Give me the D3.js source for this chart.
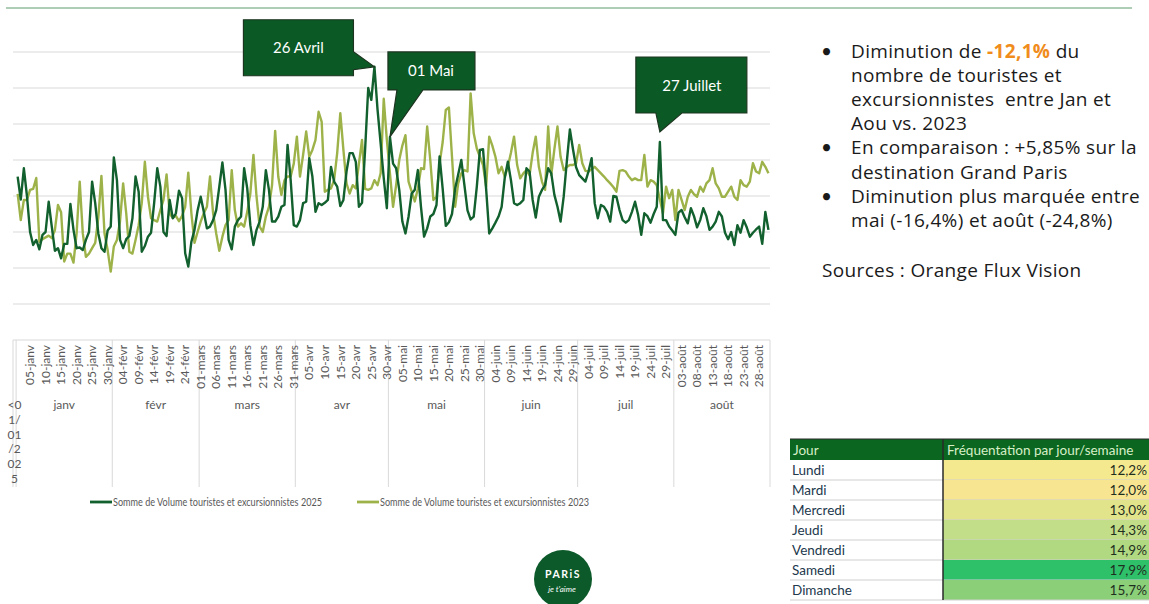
<!DOCTYPE html>
<html>
<head>
<meta charset="utf-8">
<script src="https://cdn.jsdelivr.net/npm/d3@7"></script>
<style>
  body { margin: 0; background: #fff; }
  svg { display: block; font-family: Lato, "Open Sans", sans-serif; }
</style>
</head>
<body>
<svg id="canvas" width="1149" height="604"></svg>
<script>
// month groups on the category axis (2025 calendar, Jan -> Aug)
const months = ['janv', 'févr', 'mars', 'avr', 'mai', 'juin', 'juil', 'août'];
const monthDays = [31, 28, 31, 30, 31, 30, 31, 31];
const firstGroupLabel = '<01/01/2025';

// daily volumes (gridline units, no y labels shown)
const vol2025 = [
  4.54, 3.9, 4.77, 4.0, 3.0, 2.64, 2.78, 2.52, 2.92, 3.0,
  3.84, 3.15, 2.48, 2.55, 2.27, 2.67, 2.67, 3.78, 3.06, 2.55,
  2.57, 2.5, 2.78, 3.0, 4.4, 3.8, 2.96, 2.55, 2.45, 3.04,
  3.15, 5.07, 4.44, 2.78, 2.55, 2.8, 2.89, 3.38, 4.54, 4.12,
  2.45, 2.61, 2.87, 2.98, 3.81, 4.77, 4.26, 3.0, 2.89, 3.89,
  3.38, 3.52, 4.15, 3.94, 2.41, 2.04, 2.73, 3.06, 3.6, 3.98,
  3.56, 3.1, 3.15, 3.33, 3.61, 4.26, 4.93, 4.17, 2.78, 2.52,
  3.15, 3.33, 3.43, 4.77, 4.21, 3.19, 2.64, 3.06, 3.29, 3.7,
  4.72, 4.17, 3.29, 3.29, 3.43, 3.7, 3.75, 5.42, 4.44, 3.19,
  3.15, 3.33, 3.8, 3.84, 5.05, 4.54, 3.56, 3.8, 3.75, 3.81,
  3.89, 4.81, 4.4, 4.26, 3.72, 3.89, 4.68, 5.19, 5.19, 4.95,
  3.7, 3.81, 5.3, 7.0, 6.67, 7.59, 6.4, 5.46, 4.5, 3.66,
  5.64, 4.9, 4.77, 4.17, 3.29, 2.96, 3.43, 4.07, 4.17, 4.72,
  3.7, 2.87, 3.1, 3.43, 3.5, 3.75, 5.1, 4.2, 3.17, 3.27,
  3.5, 4.2, 4.6, 5.0, 4.3, 3.6, 3.35, 3.43, 4.26, 5.28,
  5.3, 4.2, 2.96, 3.1, 3.26, 3.43, 3.7, 4.5, 4.95, 4.44,
  3.8, 3.75, 3.8, 3.89, 4.77, 4.68, 3.89, 3.4, 3.98, 4.17,
  4.3, 4.77, 4.63, 4.03, 3.7, 3.29, 3.98, 4.95, 5.85, 5.3,
  4.8, 4.58, 4.49, 4.4, 4.68, 5.05, 3.8, 3.38, 3.75, 3.7,
  3.56, 3.29, 4.0, 3.98, 3.61, 3.33, 3.26, 3.33, 3.56, 3.84,
  3.47, 2.92, 3.52, 3.44, 3.26, 3.5, 3.7, 5.5, 3.33, 3.33,
  3.15, 3.04, 2.92, 3.54, 3.61, 3.41, 3.24, 3.66, 3.44, 3.13,
  3.33, 3.66, 3.44, 3.06, 3.15, 3.29, 3.56, 3.43, 2.98, 2.8,
  3.0, 2.64, 3.19, 2.98, 3.33, 3.13, 2.87, 2.98, 3.07, 3.15,
  2.67, 3.56, 3.06
];
const vol2023 = [
  4.06, 3.33, 3.89, 3.89, 4.17, 4.2, 4.5, 2.73, 2.8, 2.85,
  2.9, 2.83, 3.05, 3.75, 3.55, 2.18, 2.4, 2.4, 2.15, 2.96,
  4.4, 2.96, 2.31, 2.4, 2.55, 2.7, 3.4, 4.56, 2.96, 2.5,
  1.9, 2.6, 2.78, 3.3, 4.35, 3.52, 2.45, 2.4, 2.78, 3.19,
  3.8, 4.95, 3.98, 3.38, 3.33, 3.29, 3.61, 3.89, 4.6, 3.5,
  3.4, 3.45, 3.3, 3.45, 3.7, 4.65, 3.52, 2.7, 3.0, 3.29,
  3.52, 3.7, 4.54, 3.52, 2.96, 2.48, 2.87, 3.19, 3.33, 4.72,
  3.61, 3.15, 3.24, 3.15, 3.56, 4.07, 5.14, 3.98, 3.15, 3.0,
  3.43, 3.7, 4.3, 5.81, 4.54, 4.03, 4.44, 4.54, 4.54, 4.9,
  5.65, 4.54, 5.14, 5.79, 5.09, 5.28, 5.56, 6.34, 6.06, 4.12,
  4.17, 4.21, 4.44, 5.2, 6.3, 5.28, 4.35, 4.07, 4.3, 4.21,
  4.9, 5.56, 4.2, 4.17, 4.21, 4.44, 4.3, 4.63, 6.7, 5.56,
  4.63, 3.7, 4.3, 5.0, 5.4, 5.69, 4.4, 4.12, 3.85, 4.2,
  4.77, 4.75, 5.93, 5.0, 3.89, 3.98, 4.9, 5.5, 6.39, 6.46,
  5.09, 3.7, 4.35, 4.63, 4.72, 4.68, 6.85, 5.74, 5.32, 5.09,
  4.86, 4.26, 5.65, 5.4, 5.09, 4.63, 4.81, 4.54, 4.81, 5.2,
  5.65, 4.86, 4.49, 4.63, 4.72, 4.58, 5.2, 5.65, 4.81, 4.4,
  4.17, 5.93, 4.58, 5.3, 5.93, 5.09, 4.72, 4.81, 4.86, 4.86,
  4.91, 5.42, 4.91, 4.7, 4.68, 4.74, 4.81, 4.72, 4.63, 4.54,
  4.44, 4.35, 4.25, 4.12, 4.7, 4.72, 4.68, 4.54, 4.44, 4.49,
  4.44, 4.44, 5.14, 4.26, 4.44, 4.4, 4.3, 3.9, 3.52, 4.26,
  3.94, 4.17, 3.33, 4.17, 3.89, 3.61, 3.98, 4.17, 4.05, 3.98,
  4.26, 4.12, 4.35, 4.44, 4.77, 4.35, 4.21, 3.98, 3.98, 4.12,
  4.26, 3.98, 3.89, 4.44, 4.3, 4.26, 4.4, 4.91, 4.68, 4.63,
  4.95, 4.81, 4.63
];
const seriesNames = [
  'Somme de Volume touristes et excursionnistes 2025',
  'Somme de Volume touristes et excursionnistes 2023'
];

// callouts: day index (1 = 1 janv)
const calloutLabels = ['26 Avril', '01 Mai', '27 Juillet'];
const calloutDays = [116, 121, 208];

// table on the right
const tableHeader = ['Jour', 'Fréquentation par jour/semaine'];
const weekDays = ['Lundi', 'Mardi', 'Mercredi', 'Jeudi', 'Vendredi', 'Samedi', 'Dimanche'];
const weekShares = [12.2, 12.0, 13.0, 14.3, 14.9, 17.9, 15.7];

const sourceText = 'Sources : Orange Flux Vision';

const canvas = d3.select('#canvas');
const grey = '#595959';
const dark = '#11602d';
const olive = '#9db34a';

// slide header rule
canvas.append('line')
  .attr('x1', 6).attr('x2', 1132).attr('y1', 8).attr('y2', 8)
  .attr('stroke', '#5c9c6c').attr('stroke-width', 1);

// scales: category 0 is the empty "<01/01/2025" slot, then one per day
const nCat = 1 + d3.sum(monthDays);
const x = d3.scaleBand().domain(d3.range(nCat)).range([13, 770]);
const cx = i => x(i) + x.bandwidth() / 2;
const y = d3.scaleLinear().domain([0, 8]).range([340, 52]);

// gridlines
canvas.append('g')
  .selectAll('line')
  .data(y.ticks(8))
  .enter()
  .append('line')
  .attr('x1', 13).attr('x2', 770)
  .attr('y1', d => y(d)).attr('y2', d => y(d))
  .attr('stroke', '#d9d9d9')
  .attr('stroke-width', 1);

// month group separators below the axis
let cum = [1];
monthDays.forEach(n => cum.push(cum[cum.length - 1] + n));
const sepX = [x(0)].concat(cum.map(c => c < nCat ? x(c) : 770));
canvas.append('g')
  .selectAll('line')
  .data(sepX)
  .enter()
  .append('line')
  .attr('x1', d => d).attr('x2', d => d)
  .attr('y1', y(0)).attr('y2', 487)
  .attr('stroke', '#d9d9d9');

// day tick labels, every 5th category
const fmtDay = d3.timeFormat('%d');
const tickIdx = d3.range(5, nCat, 5);
canvas.append('g')
  .selectAll('text')
  .data(tickIdx)
  .enter()
  .append('text')
  .attr('transform', i => `translate(${cx(i)},345) rotate(-90)`)
  .attr('dy', '0.35em')
  .attr('text-anchor', 'end')
  .style('font-size', '12px')
  .attr('fill', grey)
  .text(i => {
    const dt = new Date(2025, 0, i);
    return fmtDay(dt) + '-' + months[dt.getMonth()];
  });

// month names
canvas.append('g')
  .selectAll('text')
  .data(months)
  .enter()
  .append('text')
  .attr('x', (m, k) => (sepX[k + 1] + sepX[k + 2]) / 2)
  .attr('y', 409)
  .attr('text-anchor', 'middle')
  .style('font-size', '12px')
  .attr('fill', grey)
  .text(m => m);

// the squeezed "<01/01/2025" group label, wraps every 2 chars
const chunks = firstGroupLabel.match(/.{1,2}/g);
canvas.append('g')
  .selectAll('text')
  .data(chunks)
  .enter()
  .append('text')
  .attr('x', 14.5)
  .attr('y', (c, k) => 409 + k * 14.8)
  .attr('text-anchor', 'middle')
  .style('font-size', '12px')
  .attr('fill', grey)
  .text(c => c);

// the two lines
const line = d3.line()
  .x((v, k) => cx(k + 1))
  .y(v => y(v))
  .curve(d3.curveLinear);

canvas.append('path')
  .datum(vol2023)
  .attr('d', line)
  .attr('fill', 'none')
  .attr('stroke', olive)
  .attr('stroke-width', 2.4)
  .attr('stroke-linejoin', 'round');

canvas.append('path')
  .datum(vol2025)
  .attr('d', line)
  .attr('fill', 'none')
  .attr('stroke', dark)
  .attr('stroke-width', 2.4)
  .attr('stroke-linejoin', 'round');

// callouts (tip sits a bit above the 27 juillet peak)
const tipGap = [0, 0, 10];
const tips = calloutDays.map((d, k) => [cx(d), y(vol2025[d - 1]) - tipGap[k]]);
const calloutPaths = [
  // box to the left, wedge pointing right
  t => `M${t[0] - 131},${t[1] - 47} H${t[0] - 21} V${t[1] - 15} L${t[0]},${t[1]} L${t[0] - 21},${t[1] + 3} V${t[1] + 9} H${t[0] - 131} Z`,
  // box above-right, wedge pointing down-left
  t => `M${t[0] - 2},${t[1] - 85} H${t[0] + 85} V${t[1] - 47} H${t[0] + 33} L${t[0]},${t[1]} L${t[0] + 7},${t[1] - 47} H${t[0] - 2} Z`,
  // box above, wedge pointing down
  t => `M${t[0] - 24},${t[1] - 75} H${t[0] + 87} V${t[1] - 19} H${t[0] + 22} L${t[0]},${t[1]} L${t[0] - 4},${t[1] - 19} H${t[0] - 24} Z`
];
const calloutText = [
  t => [t[0] - 76, t[1] - 19],
  t => [t[0] + 41, t[1] - 66],
  t => [t[0] + 32, t[1] - 46]
];

calloutLabels.forEach((lbl, k) => {
  const t = tips[k];
  canvas.append('path')
    .attr('d', calloutPaths[k](t))
    .attr('fill', '#0b5a25')
    .attr('stroke', '#1d3520')
    .attr('stroke-width', 1.2);
  const p = calloutText[k](t);
  canvas.append('text')
    .attr('x', p[0]).attr('y', p[1])
    .attr('dy', '0.35em')
    .attr('text-anchor', 'middle')
    .style('font-size', '15px')
    .attr('fill', '#fff')
    .text(lbl);
});

// legend
const legend = canvas.append('g');
const legX = [90, 357];
[dark, olive].forEach((col, k) => {
  legend.append('line')
    .attr('x1', legX[k]).attr('x2', legX[k] + 22)
    .attr('y1', 502).attr('y2', 502)
    .attr('stroke', col).attr('stroke-width', 2.8);
  legend.append('text')
    .attr('x', legX[k] + 23).attr('y', 506)
    .style('font-size', '11px')
    .attr('textLength', 209)
    .attr('lengthAdjust', 'spacingAndGlyphs')
    .attr('fill', grey)
    .text(seriesNames[k]);
});

// bullet text on the right
const bulletLines = [
  {b: true, parts: [['Diminution de ', '#1a1a1a', 400], ['-12,1%', '#f08c1c', 700], [' du', '#1a1a1a', 400]]},
  {b: false, parts: [['nombre de touristes et', '#1a1a1a', 400]]},
  {b: false, parts: [['excursionnistes  entre Jan et', '#1a1a1a', 400]]},
  {b: false, parts: [['Aou vs. 2023', '#1a1a1a', 400]]},
  {b: true, parts: [['En comparaison : +5,85% sur la', '#1a1a1a', 400]]},
  {b: false, parts: [['destination Grand Paris', '#1a1a1a', 400]]},
  {b: true, parts: [['Diminution plus marquée entre', '#1a1a1a', 400]]},
  {b: false, parts: [['mai (-16,4%) et août (-24,8%)', '#1a1a1a', 400]]}
];
const txt = canvas.append('g')
  .style('font-family', '"Open Sans", sans-serif')
  .style('font-size', '19px')
  .style('letter-spacing', '0.35px');
bulletLines.forEach((ln, k) => {
  const by = 58 + k * 24.1;
  if (ln.b) {
    txt.append('text').attr('x', 821).attr('y', by)
      .style('font-family', 'Lato, sans-serif')
      .attr('fill', '#1a1a1a').text('•');
  }
  const t = txt.append('text').attr('x', 851).attr('y', by).attr('xml:space', 'preserve');
  ln.parts.forEach(p => {
    t.append('tspan').attr('fill', p[1]).style('font-weight', p[2]).text(p[0]);
  });
});
txt.append('text').attr('x', 822).attr('y', 277).attr('fill', '#1a1a1a').text(sourceText);

// table
const tTop = 439, hH = 21, rH = 20, c0 = 790, c1 = 943, c2 = 1149;
const shareColor = d3.scaleLinear()
  .domain([12.0, 12.2, 13.0, 14.3, 14.9, 15.7, 17.9])
  .range(['#f8e592', '#f5e990', '#e2e48b', '#c2de88', '#b0d981', '#8bcf78', '#2fc06a']);

const table = canvas.append('g').style('font-size', '13.5px');
table.append('rect')
  .attr('x', c0).attr('y', tTop).attr('width', c2 - c0).attr('height', hH)
  .attr('fill', '#0b661f');
table.append('text').attr('x', c0 + 3).attr('y', tTop + 15.5).attr('fill', '#d7efc8').text(tableHeader[0]);
table.append('text').attr('x', c1 + 4).attr('y', tTop + 15.5).attr('fill', '#d7efc8').text(tableHeader[1]);

const rows = table.selectAll('g.row')
  .data(weekDays)
  .enter()
  .append('g')
  .classed('row', true)
  .attr('transform', (d, k) => `translate(0,${tTop + hH + k * rH})`);
rows.append('rect')
  .attr('x', c1).attr('width', c2 - c1).attr('height', rH)
  .attr('fill', (d, k) => shareColor(weekShares[k]));
rows.append('line')
  .attr('x1', c0).attr('x2', c2).attr('y1', rH).attr('y2', rH)
  .attr('stroke', '#cfcfcf');
rows.append('text')
  .attr('x', c0 + 2).attr('y', 15)
  .attr('fill', '#22384c')
  .text(d => d);
rows.append('text')
  .attr('x', c2 - 2).attr('y', 15)
  .attr('text-anchor', 'end')
  .attr('fill', '#1f2f1f')
  .text((d, k) => d3.format('.1f')(weekShares[k]).replace('.', ',') + '%');

table.append('line')
  .attr('x1', c1).attr('x2', c1).attr('y1', tTop).attr('y2', tTop + hH + 7 * rH)
  .attr('stroke', '#2a2a2a').attr('stroke-width', 1.5);
table.append('line')
  .attr('x1', c0).attr('x2', c2).attr('y1', tTop).attr('y2', tTop)
  .attr('stroke', '#2a2a2a').attr('stroke-width', 1.2);

// Paris je t'aime badge
canvas.append('circle')
  .attr('cx', 563).attr('cy', 579).attr('r', 29)
  .attr('fill', '#0c5a2a');
canvas.append('text')
  .attr('x', 563).attr('y', 578)
  .attr('text-anchor', 'middle')
  .style('font-size', '10.5px').style('font-weight', 700).style('letter-spacing', '1.5px')
  .attr('fill', '#fff')
  .text('PARiS');
canvas.append('text')
  .attr('x', 562).attr('y', 592)
  .attr('text-anchor', 'middle')
  .style('font-size', '8px').style('font-style', 'italic')
  .attr('fill', '#fff')
  .text("je t'aime");
</script>
</body>
</html>
